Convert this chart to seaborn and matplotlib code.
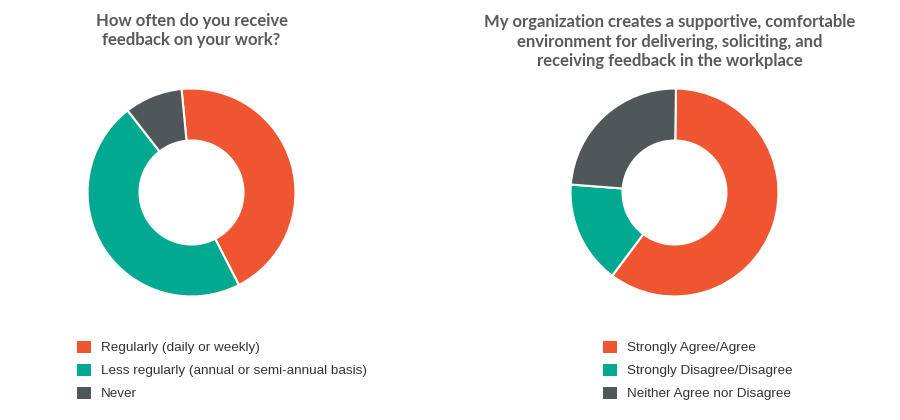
import matplotlib
matplotlib.use("Agg")
import matplotlib.pyplot as plt
from matplotlib.patches import Patch
import seaborn as sns

sns.set_theme(style="white")
plt.rcParams['font.family'] = ['Liberation Sans', 'DejaVu Sans']

# ---- data ----
left_title = "How often do you receive\nfeedback on your work?"
left_labels = ["Regularly (daily or weekly)",
               "Less regularly (annual or semi-annual basis)",
               "Never"]
left_values = [44, 47, 9]

right_title = ("My organization creates a supportive, comfortable\n"
               "environment for delivering, soliciting, and\n"
               "receiving feedback in the workplace")
right_labels = ["Strongly Agree/Agree",
                "Strongly Disagree/Disagree",
                "Neither Agree nor Disagree"]
right_values = [60, 16, 24]

colors = ["#EE5530", "#00A98F", "#4F5759"]

W, H = 900, 420
fig = plt.figure(figsize=(W / 100, H / 100), dpi=100)
fig.patch.set_facecolor("white")


def donut(cx, cy, r, values, start):
    ax = fig.add_axes([(cx - r) / W, (H - cy - r) / H, 2 * r / W, 2 * r / H])
    ax.pie(values, colors=colors, startangle=start, counterclock=False,
           radius=1.0,
           wedgeprops=dict(width=0.5, edgecolor="white", linewidth=1.5))
    ax.set_xlim(-1.01, 1.01)
    ax.set_ylim(-1.01, 1.01)
    ax.set_aspect("equal")
    ax.axis("off")
    return ax


donut(191.5, 192.5, 105, left_values, 95.5)
donut(674.5, 192.5, 105, right_values, 89.2)

title_kw = dict(ha="center", va="center", fontsize=12, fontweight="bold",
                color="#5A5A5A", linespacing=1.25,
                family=["Lato", "DejaVu Sans"])
fig.text(191.5 / W, 1 - 30.5 / H, left_title, **title_kw)
fig.text(670 / W, 1 - 41.5 / H, right_title, **title_kw)


def legend(x, y_top, labels):
    handles = [Patch(facecolor=c, edgecolor="none") for c in colors]
    fig.legend(handles, labels, loc="upper left",
               bbox_to_anchor=(x / W, 1 - y_top / H),
               frameon=False, fontsize=9.7, labelcolor="#333333",
               handlelength=1.05, handleheight=1.05, handletextpad=0.75,
               labelspacing=0.68, borderpad=0, borderaxespad=0)


legend(77, 340.5, left_labels)
legend(603, 340.5, right_labels)

fig.savefig("out.png", dpi=100, facecolor="white")
